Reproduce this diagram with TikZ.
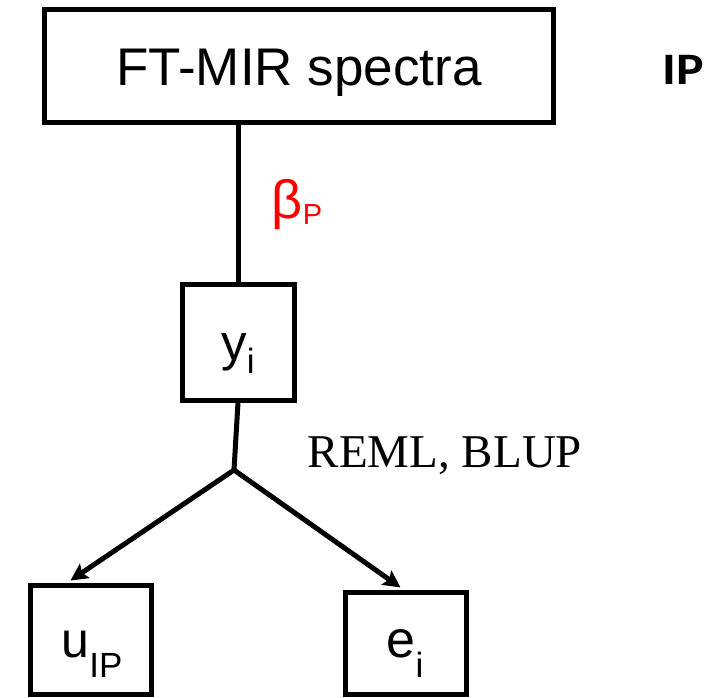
\documentclass[tikz,border=0pt]{standalone}
\usepackage{fontspec}
\setmainfont{Liberation Sans}
\newfontfamily\timesfont{Liberation Serif}
\newfontfamily\calfont{Carlito}
\usetikzlibrary{arrows.meta}
\newcommand{\fsz}[1]{\fontsize{#1}{#1}\selectfont}
\newcommand{\lowsub}[3]{\raisebox{-#1pt}{\fsz{#2}#3}}
\begin{document}
\begin{tikzpicture}[x=1pt,y=-1pt,
  box/.style={draw, line width=5pt, inner sep=0pt},
  conn/.style={line width=5pt},
  arr/.style={conn, -{Stealth[length=17pt,width=17pt,inset=3pt]}},
  txt/.style={inner sep=0pt, anchor=base}]
\useasboundingbox (0,0) rectangle (715,697);
% boxes
\node[box, minimum width=509pt, minimum height=113pt] (top) at (298.5,65.5) {};
\node[box, minimum width=112pt, minimum height=116pt] (ybox) at (238,342) {};
\node[box, minimum width=121pt, minimum height=109pt] (ubox) at (90.5,639.5) {};
\node[box, minimum width=121pt, minimum height=102pt] (ebox) at (405.5,643) {};
% texts
\node[txt] (ttop) at (299,85) {\fsz{53}FT-MIR spectra};
\node[txt] (tip) at (683,84) {\scalebox{1.15}[1]{\calfont\bfseries\fsz{45}IP}};
\node[txt, text=red] (tbeta) at (297,218) {\fsz{54}β\lowsub{6}{29}{P}};
\node[txt] (ty) at (238,360) {\fsz{51}y\lowsub{13}{35}{i}};
\node[txt] (treml) at (445,467) {\timesfont\fsz{47}REML, BLUP};
\node[txt] (tu) at (92,657) {\fsz{50}u\lowsub{20}{35}{IP}};
\node[txt] (te) at (405,657) {\fsz{52}e\lowsub{20}{35}{i}};
% connectors
\coordinate (j) at (234,470);
\draw[conn] (top.south -| ybox.north) -- (ybox.north);
\draw[conn] (ybox.south) -- (j);
\draw[arr] (j) -- ([xshift=-20pt,yshift=2pt]ubox.north);
\draw[arr] (j) -- ([xshift=-5pt,yshift=2pt]ebox.north);
\end{tikzpicture}
\end{document}
